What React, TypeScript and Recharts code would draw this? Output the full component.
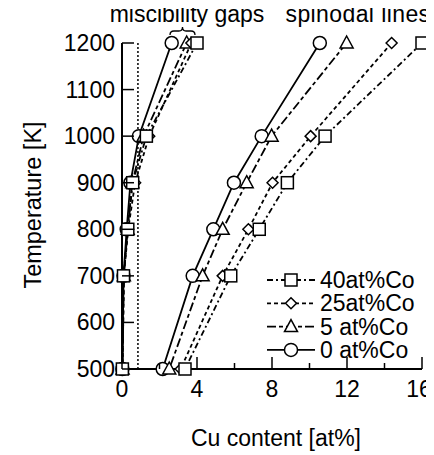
import React from 'react';
import { LineChart, Line, XAxis, YAxis, ReferenceLine, Customized } from 'recharts';

// temperatures at which the points were computed
const temps = [1200, 1000, 900, 800, 700, 500];

// miscibility gap boundaries (Cu at%)
const gapCo0 = [2.65, 0.9, 0.45, 0.25, 0.08, 0.02];
const gapCo5 = [3.45, 1.15, 0.55, 0.3, 0.1, 0.03];
const gapCo25 = [3.7, 1.45, 0.7, 0.33, 0.1, 0.03];
const gapCo40 = [4.0, 1.3, 0.57, 0.31, 0.08, 0.02];

// spinodal lines (Cu at%)
const spinCo0 = [10.55, 7.45, 5.97, 4.87, 3.77, 2.17];
const spinCo5 = [11.98, 7.98, 6.65, 5.37, 4.3, 2.52];
const spinCo25 = [14.38, 10.06, 8.03, 6.74, 5.37, 3.13];
const spinCo40 = [16.0, 10.83, 8.82, 7.32, 5.8, 3.36];

const xTicks = [0, 2, 4, 6, 8, 10, 12, 14, 16];
const yTicks = [500, 600, 700, 800, 900, 1000, 1100, 1200];
const solubilityLimit = 0.85;

const FONT = '"Liberation Sans", Arial, Helvetica, sans-serif';

type Shape = 'circle' | 'triangle' | 'diamond' | 'square';

const seriesStyle: { name: string; shape: Shape; dash?: string; gap: number[]; spin: number[] }[] = [
  { name: '0 at%Co', shape: 'circle', dash: undefined, gap: gapCo0, spin: spinCo0 },
  { name: '5 at%Co', shape: 'triangle', dash: '9 3 4 3', gap: gapCo5, spin: spinCo5 },
  { name: '25at%Co', shape: 'diamond', dash: '4 3', gap: gapCo25, spin: spinCo25 },
  { name: '40at%Co', shape: 'square', dash: '6 3 2 3', gap: gapCo40, spin: spinCo40 },
];

const toPoints = (xs: number[]) => xs.map((x, i) => ({ x, t: temps[i] }));

function Marker({ cx, cy, shape }: { cx: number; cy: number; shape: Shape }) {
  const common = { fill: '#fff', stroke: '#000', strokeWidth: 1.5 };
  if (cx == null || cy == null) return null;
  switch (shape) {
    case 'circle':
      return <circle cx={cx} cy={cy} r={6.5} {...common} />;
    case 'square':
      return <rect x={cx - 6} y={cy - 6} width={12} height={12} {...common} />;
    case 'triangle':
      return <polygon points={`${cx},${cy - 7} ${cx + 6.5},${cy + 5} ${cx - 6.5},${cy + 5}`} {...common} />;
    default:
      return <polygon points={`${cx},${cy - 5.5} ${cx + 5.5},${cy} ${cx},${cy + 5.5} ${cx - 5.5},${cy}`} {...common} />;
  }
}

const BottomTick = (props: any) => {
  const { x, y, payload } = props;
  const v = payload.value;
  const major = v % 4 === 0;
  // last label sits at the page edge, nudge it in a bit
  const dx = v === 16 ? -3 : 0;
  return (
    <g>
      <line x1={x} x2={x} y1={y} y2={y - (major ? 12 : 6)} stroke="#000" strokeWidth={1.5} />
      {major && (
        <text x={x + dx} y={y + 28} textAnchor="middle" fontSize={23} fontFamily={FONT} fill="#000">
          {v}
        </text>
      )}
    </g>
  );
};

const TopTick = (props: any) => {
  const { x, y, payload } = props;
  const major = payload.value % 4 === 0;
  return <line x1={x} x2={x} y1={y} y2={y + (major ? 12 : 6)} stroke="#000" strokeWidth={1.5} />;
};

const LeftTick = (props: any) => {
  const { x, y, payload } = props;
  return (
    <g>
      <line x1={x} x2={x + 12} y1={y} y2={y} stroke="#000" strokeWidth={1.5} />
      <text x={x - 7} y={y + 8} textAnchor="end" fontSize={23} fontFamily={FONT} fill="#000">
        {payload.value}
      </text>
    </g>
  );
};

const RightTick = (props: any) => {
  const { x, y } = props;
  return <line x1={x} x2={x - 12} y1={y} y2={y} stroke="#000" strokeWidth={1.5} />;
};

const Annotations = () => (
  <g fontFamily={FONT} fill="#000">
    <text x={187} y={22} textAnchor="middle" fontSize={23}>miscibility gaps</text>
    <text x={358} y={22} textAnchor="middle" fontSize={23} letterSpacing={0.4}>spinodal lines</text>
    <path
      d="M170,35 Q170,31 174,31 L179,31 Q182.5,31 182.5,27 Q182.5,31 186,31 L191,31 Q195,31 195,35"
      fill="none"
      stroke="#000"
      strokeWidth={1.3}
    />
    <text x={276} y={446} textAnchor="middle" fontSize={23}>Cu content [at%]</text>
    <text
      x={33}
      y={205}
      textAnchor="middle"
      dominantBaseline="central"
      fontSize={23.5}
      transform="rotate(-90 33 205)"
    >
      Temperature [K]
    </text>
    {[...seriesStyle].reverse().map((s, i) => {
      const y = 280 + i * 23.3;
      return (
        <g key={s.name}>
          <line x1={267} x2={315} y1={y} y2={y} stroke="#000" strokeWidth={1.8} strokeDasharray={s.dash} />
          <Marker cx={291} cy={y} shape={s.shape} />
          <text x={320} y={y + 8} fontSize={23}>{s.name}</text>
        </g>
      );
    })}
  </g>
);

export default function App() {
  return (
    <div style={{ margin: '-8px 0 0 -8px', width: 434, height: 455 }}>
      <LineChart width={434} height={455} margin={{ top: 43, right: 12, bottom: 56, left: 0 }}>
        <XAxis
          xAxisId="bottom"
          dataKey="x"
          type="number"
          domain={[0, 16]}
          ticks={xTicks}
          interval={0}
          tickSize={0}
          tickMargin={0}
          tickLine={false}
          axisLine={{ stroke: '#000', strokeWidth: 2 }}
          tick={<BottomTick />}
          height={30}
        />
        <XAxis
          xAxisId="top"
          orientation="top"
          dataKey="x"
          type="number"
          domain={[0, 16]}
          ticks={xTicks}
          interval={0}
          tickSize={0}
          tickMargin={0}
          tickLine={false}
          axisLine={{ stroke: '#000', strokeWidth: 2 }}
          tick={<TopTick />}
          height={0}
        />
        <YAxis
          yAxisId="left"
          type="number"
          domain={[500, 1200]}
          ticks={yTicks}
          interval={0}
          tickSize={0}
          tickMargin={0}
          tickLine={false}
          axisLine={{ stroke: '#000', strokeWidth: 2 }}
          tick={<LeftTick />}
          width={122}
        />
        <YAxis
          yAxisId="right"
          orientation="right"
          type="number"
          domain={[500, 1200]}
          ticks={yTicks}
          interval={0}
          tickSize={0}
          tickMargin={0}
          tickLine={false}
          axisLine={{ stroke: '#000', strokeWidth: 2 }}
          tick={<RightTick />}
          width={0}
        />
        <ReferenceLine
          xAxisId="bottom"
          yAxisId="left"
          x={solubilityLimit}
          stroke="#000"
          strokeWidth={1.5}
          strokeDasharray="2 2"
        />
        {seriesStyle.flatMap((s) =>
          [
            { key: 'gap', pts: s.gap },
            { key: 'spin', pts: s.spin },
          ].map((part) => (
            <Line
              key={`${s.name}-${part.key}`}
              xAxisId="bottom"
              yAxisId="left"
              data={toPoints(part.pts)}
              dataKey="t"
              stroke="#000"
              strokeWidth={1.8}
              strokeDasharray={s.dash}
              isAnimationActive={false}
              activeDot={false}
              legendType="none"
              dot={(p: any) => <Marker key={`${s.name}-${part.key}-${p.index}`} cx={p.cx} cy={p.cy} shape={s.shape} />}
            />
          ))
        )}
        <Customized component={Annotations} />
      </LineChart>
    </div>
  );
}
